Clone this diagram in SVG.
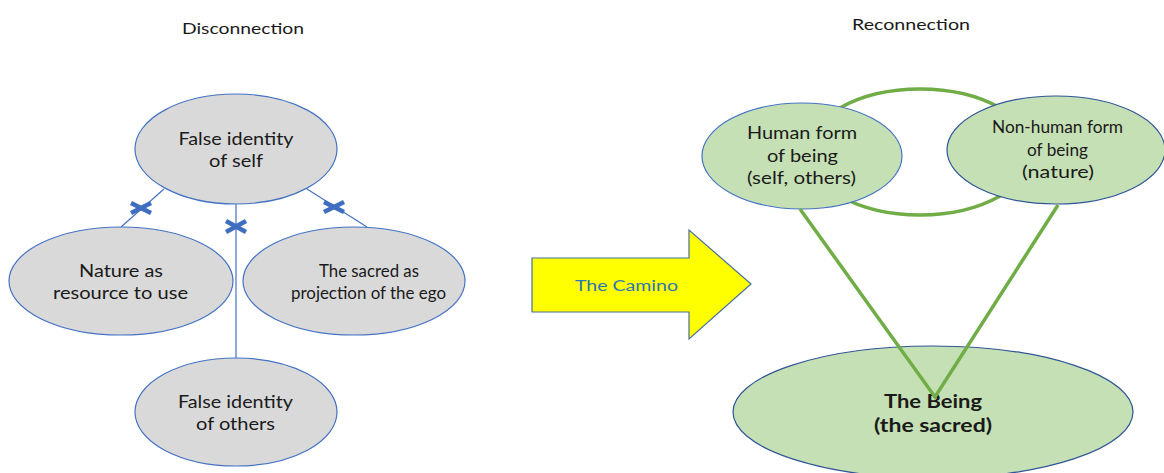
<svg xmlns="http://www.w3.org/2000/svg" width="1164" height="473" viewBox="0 0 1164 473">
<style>
text{font-family:Lato,"Liberation Sans",sans-serif;fill:#1a1a1a;text-anchor:middle;font-size:17px}
.title{font-size:15.5px}
.grey{fill:#D9D9D9;stroke:#4472C4;stroke-width:1.2}
.green{fill:#C5E0B4;stroke:#4472C4;stroke-width:1.2}
.conn{stroke:#4472C4;stroke-width:1.2;fill:none}
.x{stroke:#3F6DBF;stroke-width:4.5;stroke-linecap:butt}
.g{stroke:#70AD47;stroke-width:3.5;fill:none}
.b{font-size:19px;font-weight:bold}
</style>
<rect width="1164" height="473" fill="#fff"/>
<text class="title" x="243" y="34" textLength="122" lengthAdjust="spacingAndGlyphs">Disconnection</text>
<text class="title" x="911" y="30" textLength="118" lengthAdjust="spacingAndGlyphs">Reconnection</text>

<g id="connectors">
<line class="conn" x1="164" y1="189" x2="121" y2="227"/>
<line class="conn" x1="307" y1="189" x2="367" y2="227"/>
<line class="conn" x1="236" y1="204" x2="236" y2="358"/>
<g class="x">
<line x1="131" y1="203" x2="151" y2="213"/><line x1="131" y1="213" x2="151" y2="203"/>
<line x1="226" y1="221" x2="246" y2="232"/><line x1="226" y1="232" x2="246" y2="221"/>
<line x1="324" y1="202" x2="344" y2="212"/><line x1="324" y1="212" x2="344" y2="202"/>
</g>
</g>

<g id="node-self">
<ellipse class="grey" cx="236" cy="149" rx="101" ry="55"/>
<text x="236" y="145" textLength="115" lengthAdjust="spacingAndGlyphs">False identity</text>
<text x="236" y="167" textLength="54" lengthAdjust="spacingAndGlyphs">of self</text>
</g>
<g id="node-nature">
<ellipse class="grey" cx="121" cy="281" rx="112" ry="54"/>
<text x="121" y="277" textLength="84" lengthAdjust="spacingAndGlyphs">Nature as</text>
<text x="120.5" y="299" textLength="135" lengthAdjust="spacingAndGlyphs">resource to use</text>
</g>
<g id="node-sacred">
<ellipse class="grey" cx="354" cy="281" rx="111" ry="54"/>
<text x="369" y="277" textLength="100" lengthAdjust="spacingAndGlyphs">The sacred as</text>
<text x="368.5" y="299" textLength="155" lengthAdjust="spacingAndGlyphs">projection of the ego</text>
</g>
<g id="node-others">
<ellipse class="grey" cx="236" cy="412" rx="101" ry="54"/>
<text x="235.5" y="408" textLength="115" lengthAdjust="spacingAndGlyphs">False identity</text>
<text x="235.5" y="430" textLength="79" lengthAdjust="spacingAndGlyphs">of others</text>
</g>

<g id="node-camino">
<polygon points="532,258 689,258 689,230 751,284 689,339 689,312 532,312" fill="#FFFF00" stroke="#4A6F9C" stroke-width="1.2"/>
<text class="title" x="626.5" y="291" textLength="103" lengthAdjust="spacingAndGlyphs" style="fill:#2E75B6">The Camino</text>
</g>

<g id="loop">
<ellipse class="g" cx="920" cy="152" rx="112" ry="63"/>
</g>
<g id="node-human">
<ellipse class="green" cx="802" cy="156" rx="100" ry="53"/>
<text x="802" y="139" textLength="110" lengthAdjust="spacingAndGlyphs">Human form</text>
<text x="802.5" y="162" textLength="71" lengthAdjust="spacingAndGlyphs">of being</text>
<text x="801.5" y="184" textLength="109" lengthAdjust="spacingAndGlyphs">(self, others)</text>
</g>
<g id="node-nonhuman">
<ellipse class="green" cx="1056" cy="150" rx="109" ry="54" style="stroke:#2F5597"/>
<text x="1057.5" y="133" textLength="131" lengthAdjust="spacingAndGlyphs">Non-human form</text>
<text x="1057.5" y="156" textLength="61" lengthAdjust="spacingAndGlyphs">of being</text>
<text x="1058" y="178" textLength="72" lengthAdjust="spacingAndGlyphs">(nature)</text>
</g>
<g id="node-being">
<ellipse class="green" cx="933" cy="412" rx="200" ry="66" style="stroke:#2F5597"/>
<text class="b" x="933" y="408" textLength="98" lengthAdjust="spacingAndGlyphs">The Being</text>
<text class="b" x="933" y="432" textLength="118" lengthAdjust="spacingAndGlyphs">(the sacred)</text>
</g>
<g id="v-connectors">
<polyline class="g" points="800,209 935,397 1058,205"/>
</g>
</svg>
